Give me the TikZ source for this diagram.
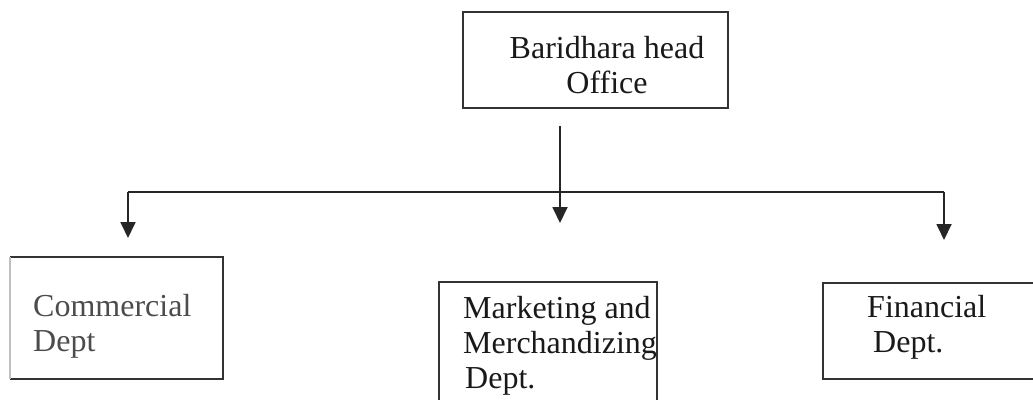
\documentclass[tikz,border=0pt]{standalone}
\usepackage{fontspec}
\setmainfont{Liberation Serif}
\usetikzlibrary{arrows.meta}
\begin{document}
\begin{tikzpicture}[x=1pt,y=-1pt,
  boxline/.style={draw=black!80,line width=1.8pt},
  txt/.style={font=\fontsize{32}{35}\selectfont,inner sep=0pt,text=black!90},
  conn/.style={draw=black!85,line width=1.8pt},
  arr/.style={conn,-{Triangle[width=15pt,length=16pt]}}]
\useasboundingbox (0,0) rectangle (1033,399);
% boxes
\node[inner sep=0pt,minimum width=265pt,minimum height=96pt] (top) at (595.5,60) {};
\node[inner sep=0pt,minimum width=213pt,minimum height=122pt] (com) at (116.5,318) {};
\node[inner sep=0pt,minimum width=218pt,minimum height=124pt] (mkt) at (548,344) {};
\node[inner sep=0pt,minimum width=217pt,minimum height=96pt] (fin) at (931.5,331) {};
\draw[boxline] (top.north west) rectangle (top.south east);
\draw[boxline] (com.north west) -- (com.north east) -- (com.south east) -- (com.south west);
\draw[draw=black!25,line width=1.8pt] (com.south west) -- (com.north west);
\draw[boxline] (mkt.north west) rectangle (mkt.south east);
\draw[boxline] (fin.north west) rectangle (fin.south east);
% texts (base anchor = baseline of the last line)
\node[txt,align=center,anchor=base] (toptxt) at (607,93) {Baridhara head\\Office};
\node[txt,align=left,anchor=base west,text=black!70] (comtxt) at (33,351) {Commercial\\Dept};
\node[txt,align=left,anchor=base west] (mkttxt) at (463,388) {Marketing and\\Merchandizing\\\hspace*{2pt}Dept.};
\node[txt,align=left,anchor=base west] (fintxt) at (867,352) {Financial\\\hspace*{6pt}Dept.};
% connectors
\coordinate (t) at (560,126);
\coordinate (h1) at (128,192);
\coordinate (h3) at (944,192);
\coordinate (a1) at (128,238);
\coordinate (a2) at (560,223);
\coordinate (a3) at (944,240);
\draw[conn] (h1) -- (h3);
\draw[arr] (h1) -- (a1);
\draw[arr] (t) -- (a2);
\draw[arr] (h3) -- (a3);
\end{tikzpicture}
\end{document}
